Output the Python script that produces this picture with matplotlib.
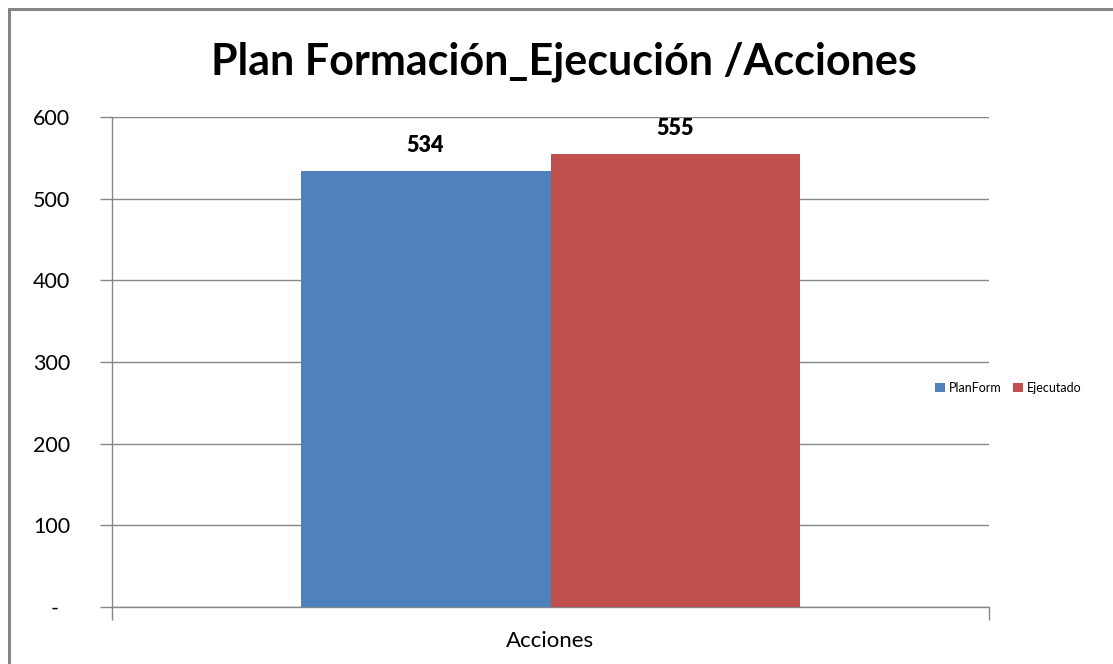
import matplotlib
matplotlib.use("Agg")
import matplotlib.pyplot as plt
from matplotlib.patches import Rectangle

plt.rcParams['font.family'] = ['Lato', 'DejaVu Sans']

title = "Plan Formación_Ejecución /Acciones"
categories = ["Acciones"]
series_names = ["PlanForm", "Ejecutado"]
series_values = [[534], [555]]
colors = ["#4F81BD", "#C0504D"]
yticks = [0, 100, 200, 300, 400, 500, 600]
ytick_labels = ["-  ", "100", "200", "300", "400", "500", "600"]

W, H = 1113, 664
fig = plt.figure(figsize=(W / 100, H / 100), dpi=100)
fig.patch.set_facecolor("white")

# outer chart border
fig.patches.append(Rectangle((9 / W, -0.05), 1.2, (664 - 9) / H + 0.05, transform=fig.transFigure,
                             fill=False, edgecolor="#868686", linewidth=2.2))

ax = fig.add_axes([112 / W, (H - 607) / H, (989 - 112) / W, (607 - 117) / H])
bw = 0.285
for i, (name, vals) in enumerate(zip(series_names, series_values)):
    offset = (i - 0.5) * bw
    for j, v in enumerate(vals):
        ax.bar(j + offset, v, width=bw, color=colors[i], label=name, zorder=3)
        ax.text(j + offset, v + 18, str(v), ha="center", va="bottom",
                fontsize=15.5, fontweight="heavy", color="black")

ax.set_xlim(-0.5, 0.5)
ax.set_ylim(0, 600)
ax.set_yticks(yticks)
ax.set_yticklabels(ytick_labels, fontsize=15.5)
ax.grid(axis="y", color="#868686", linewidth=1, zorder=0)
ax.set_xticks([0])
ax.set_xticklabels(categories, fontsize=16)
ax.tick_params(axis="x", which="major", length=0, pad=17)
ax.set_xticks([-0.5, 0.5], minor=True)
ax.tick_params(axis="x", which="minor", length=9, color="#868686", width=1)
ax.tick_params(axis="y", length=9, color="#868686", width=1, pad=21)
for lab in ax.get_yticklabels():
    lab.set_horizontalalignment("right")
for s in ["top", "right"]:
    ax.spines[s].set_visible(False)
for s in ["left", "bottom"]:
    ax.spines[s].set_color("#868686")
    ax.spines[s].set_linewidth(1)

fig.text(0.5 + 7 / W, 1 - 62 / H, title, ha="center", va="center", fontsize=31, fontweight="bold")

leg = fig.legend(loc="center left", bbox_to_anchor=(924 / W, 1 - 388 / H), ncol=2,
                 frameon=False, fontsize=9, handlelength=0.8, handleheight=0.8,
                 handletextpad=0.3, columnspacing=0.9)

fig.savefig("out.png", dpi=100)
